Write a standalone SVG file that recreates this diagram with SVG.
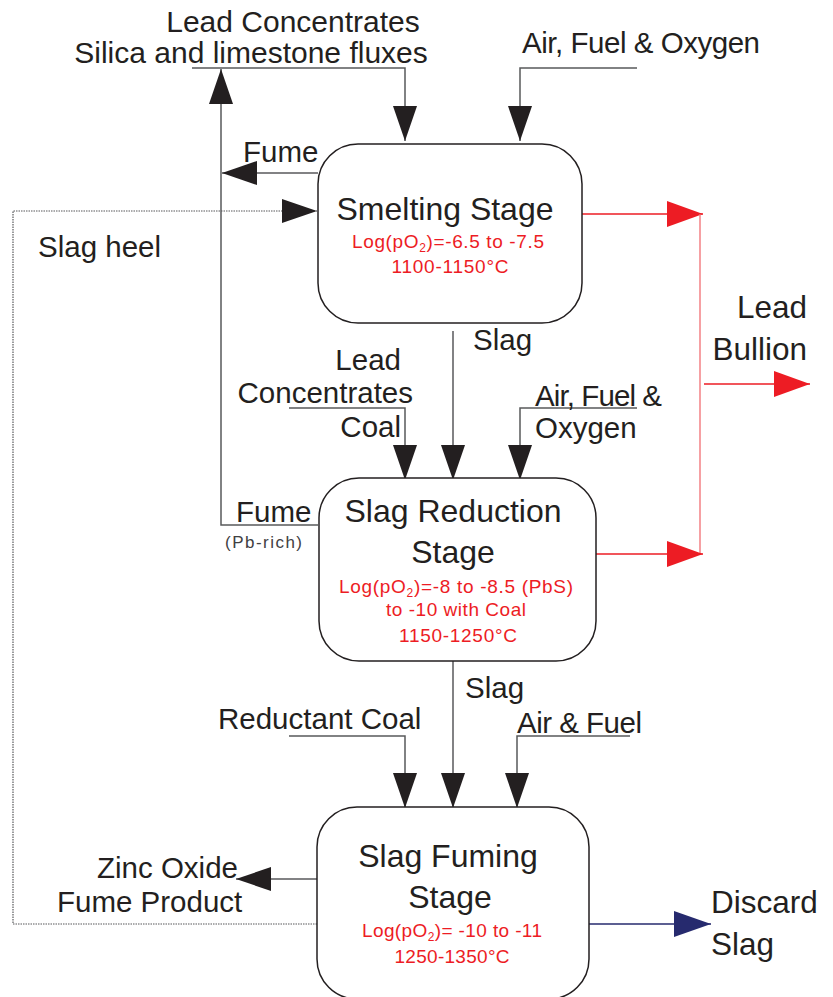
<svg xmlns="http://www.w3.org/2000/svg" width="833" height="997" viewBox="0 0 833 997">
<style>
.box{fill:#fff;stroke:#231f20;stroke-width:1.5}
.ln{fill:none;stroke:#58595b;stroke-width:1.5}
.red{fill:none;stroke:#ed1c24;stroke-width:1.3}
.navy{fill:none;stroke:#262a6e;stroke-width:1.5}
.dot{fill:none;stroke:#58595b;stroke-width:1.2;stroke-dasharray:1.5 1}
text{font-family:"Liberation Sans",Arial,Helvetica,sans-serif;fill:#231f20}
.t{font-size:32px;text-anchor:middle}
.l{font-size:29.5px}
.b{font-size:31.5px}
.r{font-size:19px;fill:#ed1c24;text-anchor:middle}
.s{font-size:12px}
</style>
<defs>
<marker id="ab" markerUnits="userSpaceOnUse" markerWidth="36" markerHeight="24" refX="35" refY="12" orient="auto"><path d="M0,0 L35,12 L0,24 z" fill="#231f20"/></marker>
<marker id="ar" markerUnits="userSpaceOnUse" markerWidth="37" markerHeight="26" refX="36" refY="13" orient="auto"><path d="M0,0 L36,13 L0,26 z" fill="#ed1c24"/></marker>
<marker id="an" markerUnits="userSpaceOnUse" markerWidth="38" markerHeight="26" refX="37" refY="13" orient="auto"><path d="M0,0 L37,13 L0,26 z" fill="#262a6e"/></marker>
</defs>
<g id="connectors">
<polyline class="ln" points="192,68 405,68 405,141" marker-end="url(#ab)"/>
<polyline class="ln" points="637,68 520,68 520,141" marker-end="url(#ab)"/>
<polyline class="ln" points="318,525 221,525 221,69" marker-end="url(#ab)"/>
<line class="ln" x1="318" y1="173" x2="222" y2="173" marker-end="url(#ab)"/>
<polyline class="dot" points="317,924 13,924 13,211 317,211" marker-end="url(#ab)"/>
<line class="red" x1="582" y1="214" x2="703" y2="214" marker-end="url(#ar)"/>
<line class="red" x1="700" y1="214" x2="700" y2="554" style="stroke:#f26d72"/>
<line class="red" x1="596" y1="554" x2="703" y2="554" marker-end="url(#ar)"/>
<line class="red" x1="704" y1="384" x2="810" y2="384" marker-end="url(#ar)"/>
<line class="ln" x1="453" y1="331" x2="453" y2="480" marker-end="url(#ab)"/>
<polyline class="ln" points="289,408 405,408 405,480" marker-end="url(#ab)"/>
<polyline class="ln" points="637,408 520,408 520,480" marker-end="url(#ab)"/>
<line class="ln" x1="453" y1="661" x2="453" y2="808" marker-end="url(#ab)"/>
<polyline class="ln" points="289,736 405,736 405,808" marker-end="url(#ab)"/>
<polyline class="ln" points="630,736 517,736 517,808" marker-end="url(#ab)"/>
<line class="ln" x1="317" y1="879" x2="236" y2="879" marker-end="url(#ab)"/>
<line class="navy" x1="589" y1="924" x2="711" y2="924" marker-end="url(#an)"/>
</g>
<g id="smelting">
<rect class="box" x="318" y="144" width="264" height="179" rx="40"/>
<text class="t" x="445" y="220">Smelting Stage</text>
<text class="r" x="448" y="248" textLength="192">Log(pO<tspan class="s" dy="4">2</tspan><tspan dy="-4">)=-6.5 to -7.5</tspan></text>
<text class="r" x="450" y="273" textLength="117">1100-1150°C</text>
</g>
<g id="reduction">
<rect class="box" x="319" y="478" width="277" height="183" rx="40"/>
<text class="t" x="453" y="522">Slag Reduction</text>
<text class="t" x="453" y="563">Stage</text>
<text class="r" x="456" y="593" textLength="234">Log(pO<tspan class="s" dy="4">2</tspan><tspan dy="-4">)=-8 to -8.5 (PbS)</tspan></text>
<text class="r" x="456" y="616" textLength="140">to -10 with Coal</text>
<text class="r" x="458" y="642" textLength="118">1150-1250°C</text>
</g>
<g id="fuming">
<rect class="box" x="317" y="807" width="272" height="192" rx="40"/>
<text class="t" x="448" y="867">Slag Fuming</text>
<text class="t" x="450" y="908">Stage</text>
<text class="r" x="452" y="937" textLength="180">Log(pO<tspan class="s" dy="4">2</tspan><tspan dy="-4">)= -10 to -11</tspan></text>
<text class="r" x="452" y="963" textLength="115">1250-1350°C</text>
</g>
<g id="labels">
<text class="l" x="293" y="32" text-anchor="middle" style="font-size:30px">Lead Concentrates</text>
<text class="l" x="251" y="63" text-anchor="middle" style="font-size:30px">Silica and limestone fluxes</text>
<text class="l" x="522" y="53" textLength="238">Air, Fuel &amp; Oxygen</text>
<text class="l" x="243" y="162">Fume</text>
<text class="l" x="38" y="257">Slag heel</text>
<text class="l" x="473" y="350">Slag</text>
<text class="l" x="401" y="370" text-anchor="end">Lead</text>
<text class="l" x="413" y="403" text-anchor="end">Concentrates</text>
<text class="l" x="401" y="437" text-anchor="end">Coal</text>
<text class="l" x="535" y="406" textLength="127">Air, Fuel &amp;</text>
<text class="l" x="535" y="438">Oxygen</text>
<text class="l" x="236" y="522">Fume</text>
<text x="225" y="548" textLength="77" style="font-size:17px;fill:#414042">(Pb-rich)</text>
<text class="b" x="807" y="318" text-anchor="end">Lead</text>
<text class="b" x="807" y="360" text-anchor="end">Bullion</text>
<text class="l" x="465" y="698">Slag</text>
<text class="l" x="218" y="729">Reductant Coal</text>
<text class="l" x="517" y="733" textLength="125">Air &amp; Fuel</text>
<text class="l" x="97" y="878">Zinc Oxide</text>
<text class="l" x="57" y="912">Fume Product</text>
<text class="b" x="711" y="913">Discard</text>
<text class="b" x="711" y="955">Slag</text>
</g>
</svg>
